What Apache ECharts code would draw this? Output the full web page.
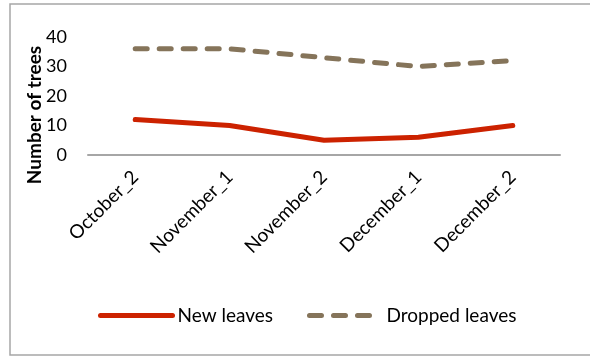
<!DOCTYPE html>
<html>
<head>
<meta charset="utf-8">
<script src="https://cdn.jsdelivr.net/npm/echarts@6/dist/echarts.min.js"></script>
<style>
  html, body { margin: 0; padding: 0; background: #fff; }
  #chart { width: 590px; height: 356px; }
</style>
</head>
<body>
<div id="chart"></div>
<script>
// Sampling periods along the x axis
const periods = ['October_2', 'November_1', 'November_2', 'December_1', 'December_2'];
// Number of trees per period
const newLeaves = [12, 10, 5, 6, 10];
const droppedLeaves = [36, 36, 33, 30, 32];
// Value axis ticks
const yTicks = [0, 10, 20, 30, 40];

const font = 'Lato, "Open Sans", sans-serif';
const chart = echarts.init(document.getElementById('chart'), null, { renderer: 'canvas' });

chart.setOption({
  animation: false,
  backgroundColor: '#fff',
  grid: { left: 88, right: 30, top: 37, bottom: 201, containLabel: false },
  xAxis: {
    type: 'category',
    data: periods,
    boundaryGap: true,
    axisLine: { lineStyle: { color: '#a6a6a6', width: 2 } },
    axisTick: { show: false },
    axisLabel: { rotate: 45, color: '#000', fontFamily: font, fontSize: 19, margin: 19, interval: 0 }
  },
  yAxis: {
    type: 'value',
    min: yTicks[0],
    max: yTicks[yTicks.length - 1],
    interval: 10,
    axisLine: { show: false },
    axisTick: { show: false },
    splitLine: { show: false },
    axisLabel: { color: '#000', fontFamily: font, fontSize: 18, margin: 21 }
  },
  legend: {
    orient: 'horizontal',
    top: 301,
    left: 93,
    itemWidth: 72,
    itemHeight: 14,
    itemGap: 34,
    itemStyle: { opacity: 0 },
    lineStyle: { width: 5, cap: 'round' },
    textStyle: { color: '#000', fontFamily: font, fontSize: 19 },
    data: ['New leaves', 'Dropped leaves']
  },
  series: [
    {
      name: 'New leaves',
      type: 'line',
      data: newLeaves,
      symbol: 'none',
      color: '#cc2200',
      lineStyle: { color: '#cc2200', width: 5, cap: 'round', join: 'round' }
    },
    {
      name: 'Dropped leaves',
      type: 'line',
      data: droppedLeaves,
      symbol: 'none',
      color: '#85745a',
      lineStyle: { color: '#85745a', width: 5, type: [12, 12], cap: 'round', join: 'round' }
    }
  ],
  graphic: [
    {
      type: 'rect',
      shape: { x: 10, y: 4, width: 590, height: 351 },
      style: { fill: 'none', stroke: '#a6a6a6', lineWidth: 1.5 },
      silent: true
    },
    {
      type: 'text',
      x: 35,
      y: 115,
      rotation: Math.PI / 2,
      style: {
        text: 'Number of trees',
        font: 'bold 19px ' + font,
        fill: '#000',
        align: 'center',
        verticalAlign: 'middle'
      }
    }
  ]
});
</script>
</body>
</html>
